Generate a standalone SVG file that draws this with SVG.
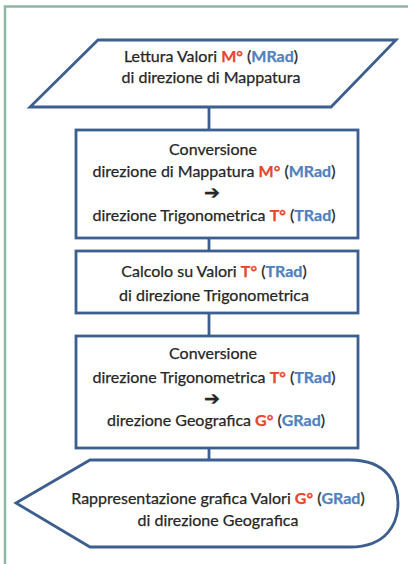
<svg xmlns="http://www.w3.org/2000/svg" width="408" height="564" viewBox="0 0 408 564">
<style>
.frame{stroke:#8db8a6;stroke-width:2.5;fill:none}
.shape{fill:#ffffff;stroke:#3d5f8f;stroke-width:2.8;stroke-linejoin:miter}
.conn{stroke:#3d5f8f;stroke-width:2.8;fill:none}
text{font-family:Lato,"Liberation Sans",sans-serif;font-size:16px;fill:#262626;text-anchor:middle;stroke:#262626;stroke-width:0.25}
.r{fill:#e8452c;stroke:#e8452c;font-weight:bold}
.b{fill:#4f81bd;stroke:#4f81bd;font-weight:bold}
.arr{font-family:"DejaVu Sans",sans-serif;font-weight:bold;font-size:19px}
</style>
<rect width="408" height="564" fill="#ffffff"/>
<path class="frame" d="M5 564 V6.5 H408"/>
<g id="connectors">
<line class="conn" x1="209" y1="107" x2="209" y2="130"/>
<line class="conn" x1="209" y1="238" x2="209" y2="251"/>
<line class="conn" x1="209" y1="313" x2="209" y2="336"/>
<line class="conn" x1="209" y1="448" x2="209" y2="460"/>
</g>
<g id="node1">
<polygon class="shape" points="98,40 396,40 331,107 30,107"/>
<text x="211" y="62">Lettura Valori <tspan class="r">M°</tspan> (<tspan class="b">MRad</tspan>)</text>
<text x="211" y="83">di direzione di Mappatura</text>
</g>
<g id="node2">
<rect class="shape" x="76" y="130" width="282" height="108"/>
<text x="213" y="155">Conversione</text>
<text x="214" y="177">direzione di Mappatura <tspan class="r">M°</tspan> (<tspan class="b">MRad</tspan>)</text>
<text class="arr" x="212" y="199">➔</text>
<text x="214" y="221">direzione Trigonometrica <tspan class="r">T°</tspan> (<tspan class="b">TRad</tspan>)</text>
</g>
<g id="node3">
<rect class="shape" x="76" y="251" width="282" height="62"/>
<text x="214" y="277">Calcolo su Valori <tspan class="r">T°</tspan> (<tspan class="b">TRad</tspan>)</text>
<text x="214" y="301">di direzione Trigonometrica</text>
</g>
<g id="node4">
<rect class="shape" x="76" y="336" width="282" height="112"/>
<text x="213" y="359">Conversione</text>
<text x="214" y="383">direzione Trigonometrica <tspan class="r">T°</tspan> (<tspan class="b">TRad</tspan>)</text>
<text class="arr" x="212" y="405">➔</text>
<text x="216" y="426">direzione Geografica <tspan class="r">G°</tspan> (<tspan class="b">GRad</tspan>)</text>
</g>
<g id="node5">
<path class="shape" d="M16 503 L90 460 H350 C388 460 398 485 398 503 C398 522 388 547 350 547 H90 Z"/>
<text x="218" y="504">Rappresentazione grafica Valori <tspan class="r">G°</tspan> (<tspan class="b">GRad</tspan>)</text>
<text x="218" y="526">di direzione Geografica</text>
</g>
</svg>
